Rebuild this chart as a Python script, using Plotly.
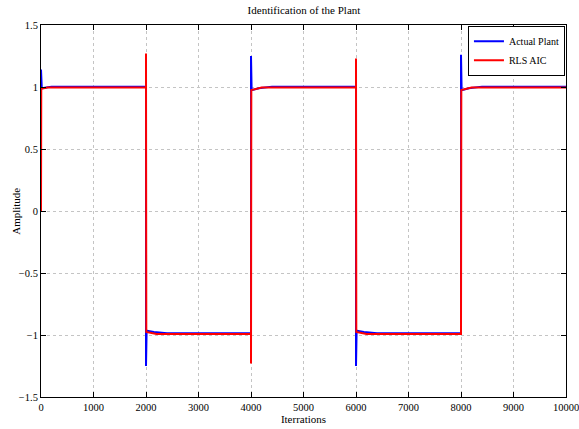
import plotly.graph_objects as go

# Actual Plant (blue) breakpoints
plant_x = [0, 0, 15, 200, 2000, 2000, 2012, 2150, 2400, 4000, 4000, 4012, 4150, 4400, 6000, 6000, 6012, 6150, 6400, 8000, 8000, 8012, 8150, 8400, 10000]
plant_y = [1.0, 1.14, 0.99, 1.003, 1.003, -1.25, -0.965, -0.975, -0.985, -0.985, 1.25, 0.975, 0.99, 1.003, 1.003, -1.25, -0.965, -0.975, -0.985, -0.985, 1.26, 0.975, 0.99, 1.003, 1.003]

# RLS AIC estimate (red) breakpoints
rls_x = [0, 5, 120, 2000, 2000, 2006, 2200, 4000, 4000, 4006, 4200, 6000, 6000, 6006, 6200, 8000, 8006, 8200, 10000]
rls_y = [0.0, 0.985, 0.995, 0.995, 1.27, -0.975, -0.992, -0.992, -1.23, 0.975, 0.995, 0.995, 1.23, -0.975, -0.992, -0.992, 0.975, 0.995, 0.995]

x_ticks = [0, 1000, 2000, 3000, 4000, 5000, 6000, 7000, 8000, 9000, 10000]
y_ticks = [-1.5, -1, -0.5, 0, 0.5, 1, 1.5]
y_ticklabels = ["\u22121.5", "\u22121", "\u22120.5", "0", "0.5", "1", "1.5"]

font = "Liberation Serif"

fig = go.Figure()
fig.add_trace(go.Scatter(x=plant_x, y=plant_y, mode="lines", name="Actual Plant",
                         line=dict(color="#0000ff", width=2)))
fig.add_trace(go.Scatter(x=rls_x, y=rls_y, mode="lines", name="RLS AIC",
                         line=dict(color="#ff0000", width=2)))

axis_common = dict(showline=True, linecolor="black", linewidth=1, mirror="allticks",
                   ticks="inside", ticklen=5, tickcolor="black", automargin=False,
                   ticklabeloverflow="allow",
                   showgrid=True, gridcolor="#c4c4c4", griddash="dot", gridwidth=1,
                   zeroline=False, tickfont=dict(family=font, size=10.5, color="black"))

fig.update_layout(
    width=579, height=429,
    margin=dict(l=41, r=13, t=25, b=32),
    paper_bgcolor="white", plot_bgcolor="white",
    title=dict(text="Identification of the Plant", x=0.525, xanchor="center", y=0.985, yanchor="top",
               font=dict(family=font, size=11, color="black")),
    xaxis=dict(range=[0, 10000], tickvals=x_ticks, ticktext=[str(v) for v in x_ticks],
               title=dict(text="Iterrations", font=dict(family=font, size=11, color="black"), standoff=2),
               **axis_common),
    yaxis=dict(range=[-1.5, 1.5], tickvals=y_ticks, ticktext=y_ticklabels,
               **axis_common),
    legend=dict(x=0.998, y=0.998, xanchor="right", yanchor="top", bgcolor="white",
                bordercolor="black", borderwidth=1, font=dict(family=font, size=10, color="black"),
                tracegroupgap=0, itemwidth=30),
    showlegend=True,
    annotations=[dict(text="Amplitude", textangle=-90, xref="paper", yref="paper",
                      x=-0.048, y=0.5, xanchor="center", yanchor="middle", showarrow=False,
                      font=dict(family=font, size=11, color="black"))],
)

fig.write_html("out.html")
